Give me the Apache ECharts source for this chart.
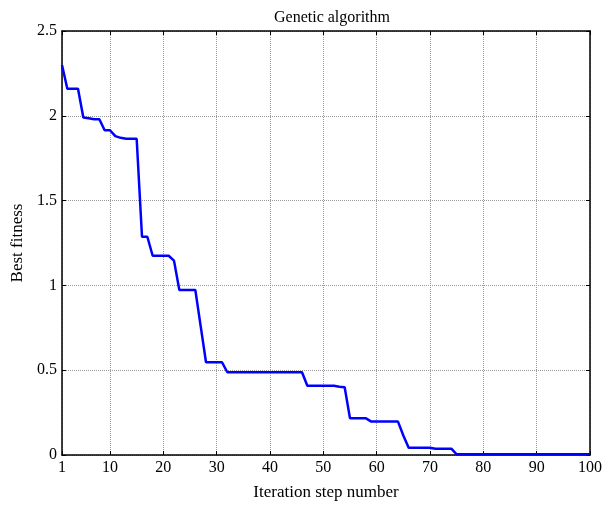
<!DOCTYPE html>
<html>
<head>
<meta charset="utf-8">
<script src="https://cdn.jsdelivr.net/npm/echarts@6/dist/echarts.min.js"></script>
<style>html,body{margin:0;padding:0;background:#fff;}#c{width:605px;height:506px;}</style>
</head>
<body>
<div id="c"></div>
<script>
var titleText = "Genetic algorithm";
var xName = "Iteration step number";
var yName = "Best fitness";
var xTicks = [1, 10, 20, 30, 40, 50, 60, 70, 80, 90, 100];
var steps = [];
for (var k = 1; k <= 100; k++) steps.push(k);
var bestFitness = [
  2.30, 2.16, 2.16, 2.16, 1.99, 1.985, 1.98, 1.98, 1.915, 1.915,
  1.88, 1.87, 1.865, 1.865, 1.865, 1.287, 1.287, 1.175, 1.175, 1.175,
  1.175, 1.146, 0.973, 0.973, 0.973, 0.973, 0.76, 0.547, 0.547, 0.547,
  0.547, 0.488, 0.488, 0.488, 0.488, 0.488, 0.488, 0.488, 0.488, 0.488,
  0.488, 0.488, 0.488, 0.488, 0.488, 0.488, 0.408, 0.408, 0.408, 0.408,
  0.408, 0.408, 0.403, 0.399, 0.216, 0.216, 0.216, 0.216, 0.197, 0.197,
  0.197, 0.197, 0.197, 0.197, 0.115, 0.043, 0.043, 0.043, 0.043, 0.043,
  0.037, 0.037, 0.037, 0.037, 0.004, 0.004, 0.004, 0.004, 0.004, 0.004,
  0.004, 0.004, 0.004, 0.004, 0.004, 0.004, 0.004, 0.004, 0.004, 0.004,
  0.004, 0.004, 0.004, 0.004, 0.004, 0.004, 0.004, 0.004, 0.004, 0.004
];

var font = "'Liberation Serif', 'Times New Roman', serif";
var chart = echarts.init(document.getElementById('c'), null, {renderer: 'canvas'});
var gridLine = {show: true, lineStyle: {color: '#9a9a9a', type: [1, 1], width: 1}};
var axisLineStyle = {show: true, onZero: false, lineStyle: {color: '#000', width: 1.5}};
var tickStyle = {show: true, inside: true, length: 4, lineStyle: {color: '#000', width: 1}};
chart.setOption({
  backgroundColor: '#fff',
  animation: false,
  title: {
    text: titleText, left: 327, top: 5, textAlign: 'center',
    textStyle: {fontFamily: font, fontWeight: 'normal', fontSize: 16, color: '#000'}
  },
  grid: {left: 62, right: 13, top: 31, bottom: 51, containLabel: false},
  xAxis: [{
    type: 'value', min: 1, max: 100, position: 'bottom',
    name: xName, nameLocation: 'middle', nameGap: 29,
    nameTextStyle: {fontFamily: font, fontSize: 17, color: '#000'},
    axisLine: axisLineStyle,
    axisTick: Object.assign({customValues: xTicks}, tickStyle),
    axisLabel: {customValues: xTicks, fontFamily: font, fontSize: 16, color: '#000', margin: 5},
    splitLine: gridLine
  }, {
    type: 'value', min: 1, max: 100, position: 'top',
    axisLine: axisLineStyle,
    axisTick: Object.assign({customValues: xTicks}, tickStyle),
    axisLabel: {show: false, customValues: xTicks},
    splitLine: {show: false}
  }],
  yAxis: [{
    type: 'value', min: 0, max: 2.5, interval: 0.5, position: 'left',
    name: yName, nameLocation: 'middle', nameGap: 34, nameRotate: 90,
    nameTextStyle: {fontFamily: font, fontSize: 17, color: '#000'},
    axisLine: axisLineStyle,
    axisTick: tickStyle,
    axisLabel: {fontFamily: font, fontSize: 16, color: '#000', margin: 5},
    splitLine: gridLine
  }, {
    type: 'value', min: 0, max: 2.5, interval: 0.5, position: 'right',
    axisLine: axisLineStyle,
    axisTick: tickStyle,
    axisLabel: {show: false},
    splitLine: {show: false}
  }],
  series: [{
    type: 'line',
    data: steps.map(function (s, i) { return [s, bestFitness[i]]; }),
    showSymbol: false, symbol: 'none',
    lineStyle: {color: '#0000ff', width: 2.5},
    itemStyle: {color: '#0000ff'},
    z: 5
  }]
});
</script>
</body>
</html>
